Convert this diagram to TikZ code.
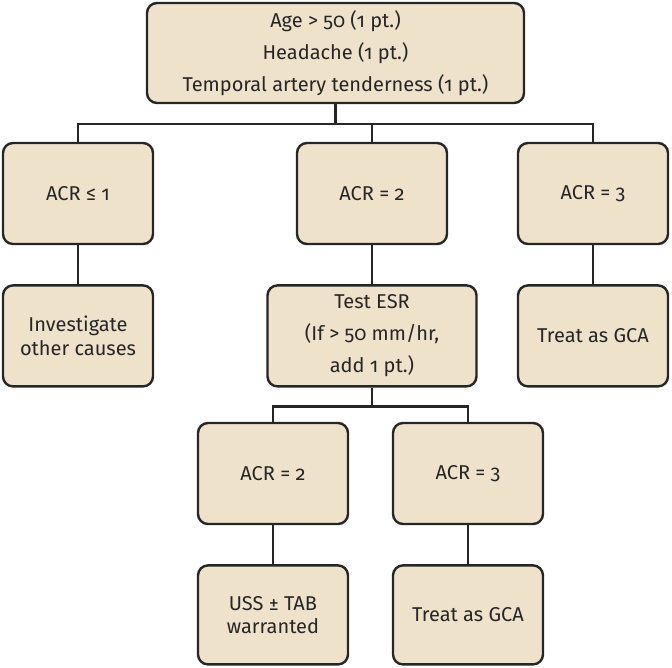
\documentclass[tikz,border=0pt]{standalone}
\usepackage{fontspec}
\setmainfont{Fira Sans}[Numbers=OldStyle]
\usepackage{xcolor}
\usepackage{tikz}
\usetikzlibrary{positioning}
\definecolor{boxfill}{HTML}{EEE2CB}
\definecolor{boxline}{HTML}{262626}

\begin{document}
\begin{tikzpicture}[
    x=1pt,y=1pt,
    box/.style={draw=boxline,line width=2.4pt,rounded corners=10pt,fill=boxfill,align=center,
      minimum width=150pt,minimum height=101pt,inner sep=2pt,
      font=\fontsize{20}{23.5}\selectfont,text=black!85},
    link/.style={draw=boxline,line width=2.3pt}
  ]
    \useasboundingbox (0,0) rectangle (672,-667);
    % criteria
    \node[box,minimum width=377pt,minimum height=100pt,font=\fontsize{20}{32}\selectfont] (crit) at (335.5,-53)
      {Age > 50 (1 pt.)\\Headache (1 pt.)\\Temporal artery tenderness (1 pt.)};
    % first split
    \node[box] (acrone) at (78,-193.5) {ACR ≤ 1};
    \node[box] (acrtwo) at (372,-193.5) {ACR = 2};
    \node[box] (acrthree) at (593,-193.5) {ACR = 3};
    \node[box,below=39pt of acrone] (other) {Investigate\\other causes};
    \node[box,minimum width=209pt,font=\fontsize{20}{32}\selectfont,below=39pt of acrtwo] (esr) {Test ESR\\(If > 50 mm/hr,\\add 1 pt.)};
    \node[box,below=39pt of acrthree] (gcaone) {Treat as GCA};
    % after ESR
    \node[box] (esrtwo) at (273,-473.5) {ACR = 2};
    \node[box] (esrthree) at (468,-473.5) {ACR = 3};
    \node[box,minimum height=99pt,below=39pt of esrtwo] (uss) {USS ± TAB\\warranted};
    \node[box,minimum height=99pt,below=39pt of esrthree] (gcatwo) {Treat as GCA};
    % connectors
    \path (crit.south) ++(0,-20) coordinate (split);
    \draw[link] (crit.south) -- (split);
    \draw[link] (acrone.north) |- (split) -| (acrthree.north);
    \draw[link] (acrtwo.north) -- (acrtwo.north |- split);
    \draw[link] (acrone) -- (other);
    \draw[link] (acrtwo) -- (esr);
    \draw[link] (acrthree) -- (gcaone);
    \path (esr.south) ++(0,-19) coordinate (esrsplit);
    \draw[link] (esr.south) -- (esrsplit);
    \draw[link] (esrtwo.north) |- (esrsplit) -| (esrthree.north);
    \draw[link] (esrtwo) -- (uss);
    \draw[link] (esrthree) -- (gcatwo);
  \end{tikzpicture}
\end{document}
